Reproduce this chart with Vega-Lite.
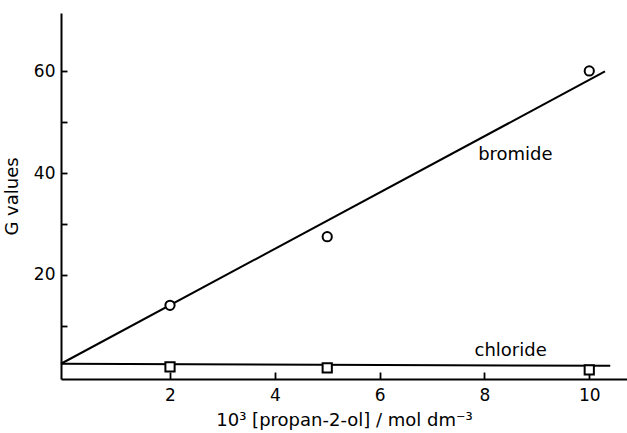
{
  "$schema": "https://vega.github.io/schema/vega-lite/v6.json",
  "autosize": "none",
  "width": 566,
  "height": 366,
  "padding": {"left": 61, "top": 13, "right": 0, "bottom": 54},
  "background": "white",
  "config": {
    "view": {"stroke": null},
    "font": "DejaVu Sans",
    "axis": {"domainColor": "black", "tickColor": "black", "labelColor": "black", "titleColor": "black", "grid": false, "domainWidth": 2, "tickWidth": 1.8, "labelFont": "DejaVu Sans", "titleFont": "DejaVu Sans", "labelFontSize": 17, "titleFontSize": 18, "titleFontWeight": "normal"}
  },
  "datasets": {
    "pts": [
      {"x": 2, "g": 14, "salt": "bromide"},
      {"x": 5, "g": 27.5, "salt": "bromide"},
      {"x": 10, "g": 60.1, "salt": "bromide"},
      {"x": 2, "g": 1.9, "salt": "chloride"},
      {"x": 5, "g": 1.7, "salt": "chloride"},
      {"x": 10, "g": 1.3, "salt": "chloride"}
    ],
    "fit": [
      {"x": -0.08, "g": 2.5, "salt": "bromide"},
      {"x": 10.3, "g": 60, "salt": "bromide"},
      {"x": -0.08, "g": 2.5, "salt": "chloride"},
      {"x": 10.4, "g": 2.1, "salt": "chloride"}
    ],
    "labels": [
      {"x": 8.59, "g": 43.6, "text": "bromide"},
      {"x": 8.5, "g": 5.0, "text": "chloride"}
    ]
  },
  "layer": [
    {
      "data": {"name": "fit"},
      "mark": {"type": "line", "color": "black", "strokeWidth": 2},
      "encoding": {
        "x": {"field": "x", "type": "quantitative", "scale": {"domain": [-0.08, 10.72], "nice": false, "zero": false},
          "axis": {"values": [2, 4, 6, 8, 10], "tickSize": -7, "labelPadding": 15, "title": "10³ [propan-2-ol] / mol dm⁻³", "titlePadding": 8}},
        "y": {"field": "g", "type": "quantitative", "scale": {"domain": [-0.5, 71.5], "nice": false, "zero": false},
          "axis": {"values": [10, 20, 30, 40, 50, 60], "labelExpr": "datum.value % 20 == 0 ? datum.label : ''", "tickSize": -6, "labelPadding": 12, "title": "G values", "titlePadding": 12}},
        "detail": {"field": "salt"}
      }
    },
    {
      "data": {"name": "pts"},
      "mark": {"type": "point", "filled": true, "fill": "white", "stroke": "black", "strokeWidth": 2, "size": 85, "opacity": 1},
      "encoding": {
        "x": {"field": "x", "type": "quantitative"},
        "y": {"field": "g", "type": "quantitative"},
        "shape": {"field": "salt", "type": "nominal", "scale": {"domain": ["bromide", "chloride"], "range": ["circle", "square"]}, "legend": null}
      }
    },
    {
      "data": {"name": "labels"},
      "mark": {"type": "text", "fontSize": 18, "color": "black", "align": "center", "baseline": "middle"},
      "encoding": {
        "x": {"field": "x", "type": "quantitative"},
        "y": {"field": "g", "type": "quantitative"},
        "text": {"field": "text"}
      }
    }
  ]
}
